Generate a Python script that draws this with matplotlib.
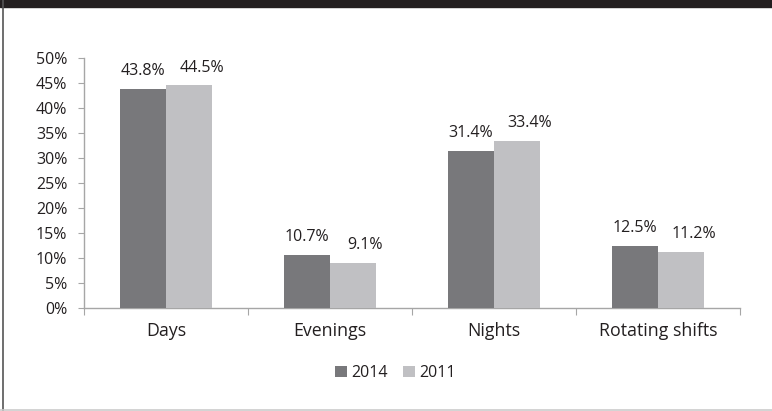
import matplotlib
matplotlib.use('Agg')
import matplotlib.pyplot as plt
import matplotlib.patches as mpatches
from matplotlib.ticker import FuncFormatter
import numpy as np

# ── Data ─────────────────────────────────────────────────────────────────────
categories = ['Days', 'Evenings', 'Nights', 'Rotating shifts']
years = ['2014', '2011']
share_2014 = [43.8, 10.7, 31.4, 12.5]
share_2011 = [44.5, 9.1, 33.4, 11.2]

DARK = '#78787b'
LIGHT = '#c0c0c3'
TEXT = '#231f20'
AXIS = '#a6a6a6'

plt.rcParams['font.family'] = ['Open Sans', 'DejaVu Sans']

fig = plt.figure(figsize=(7.72, 4.11), dpi=100)
ax = fig.add_axes([0.1088, 0.2506, 0.8497, 0.6083])

x = np.arange(len(categories))
width = 0.28
b1 = ax.bar(x - width / 2, share_2014, width, color=DARK, zorder=3, label=years[0])
b2 = ax.bar(x + width / 2, share_2011, width, color=LIGHT, zorder=3, label=years[1])

# value labels; the 2011 ones sit a little to the right of their bars
for bars, vals, dx in ((b1, share_2014, 0), (b2, share_2011, 9)):
    for bar, v in zip(bars, vals):
        ax.annotate(f'{v:.1f}%', (bar.get_x() + bar.get_width() / 2, v),
                    xytext=(dx, 7), textcoords='offset points',
                    ha='center', va='bottom', fontsize=11.5, color=TEXT)

ax.set_xlim(-0.5, len(categories) - 0.5)
ax.set_ylim(0, 50)
ax.set_yticks(np.arange(0, 51, 5))
ax.yaxis.set_major_formatter(FuncFormatter(lambda v, _: f'{v:.0f}%'))

# category labels centred, ticks on the boundaries
ax.set_xticks(np.arange(-0.5, len(categories), 1.0))
ax.set_xticklabels([])
ax.set_xticks(x, minor=True)
ax.set_xticklabels(categories, minor=True, fontsize=12.8, color=TEXT)
ax.tick_params(axis='x', which='major', length=5, color=AXIS, direction='out')
ax.tick_params(axis='x', which='minor', length=0, pad=10)
ax.tick_params(axis='y', length=4, color=AXIS, labelsize=11.5, labelcolor=TEXT, pad=8)

for s in ('top', 'right'):
    ax.spines[s].set_visible(False)
for s in ('left', 'bottom'):
    ax.spines[s].set_color(AXIS)
    ax.spines[s].set_linewidth(1.0)

ax.legend(loc='center', bbox_to_anchor=(0.512, 0.092), bbox_transform=fig.transFigure,
          ncol=2, frameon=False, fontsize=11.5, handlelength=0.75, handleheight=0.75,
          handletextpad=0.25, columnspacing=1.0, labelcolor=TEXT)

# frame around the figure: dark band on top, thin rule left and bottom
fig.patches.append(mpatches.Rectangle((0, 1 - 7 / 411), 1, 7 / 411, transform=fig.transFigure,
                                      color=TEXT, zorder=0))
fig.lines.append(plt.Line2D([2.5 / 772, 2.5 / 772], [0, 1], transform=fig.transFigure,
                            color='#555555', lw=1.2))
fig.lines.append(plt.Line2D([0, 1], [1.5 / 411, 1.5 / 411], transform=fig.transFigure,
                            color='#cccccc', lw=1.2))

fig.savefig('out.png', dpi=100, facecolor='white')
